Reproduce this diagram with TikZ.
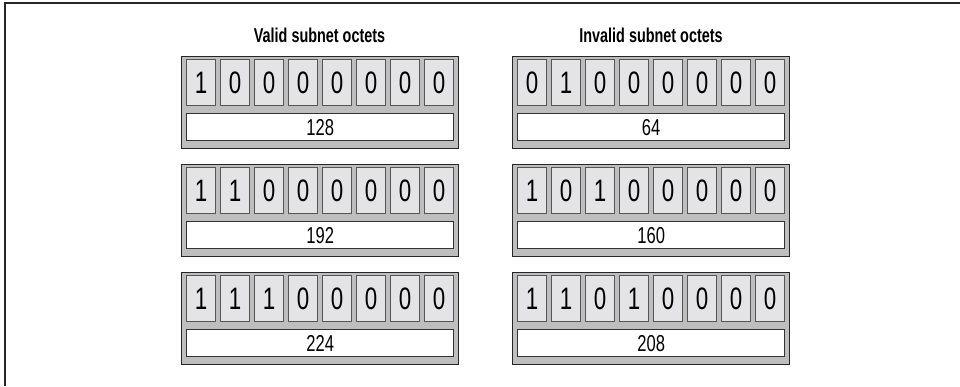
\documentclass[tikz,border=0pt]{standalone}
\usepackage{fontspec}
\setmainfont{Liberation Sans}[FakeStretch=0.72]
\usetikzlibrary{positioning}
\definecolor{octetgray}{HTML}{BEBEBE}
\definecolor{cellgray}{HTML}{E4E4E6}
\definecolor{edgegray}{HTML}{555555}

\tikzset{
  octetbox/.style={draw=black!85, line width=1.3pt, fill=octetgray, minimum width=277pt,
    minimum height=92pt, inner sep=0pt, anchor=north west},
  bitcell/.style={draw=edgegray, line width=1.3pt, fill=cellgray, minimum width=29pt,
    minimum height=46pt, inner sep=0pt, anchor=north west, font=\fontsize{31}{31}\selectfont},
  valuebar/.style={draw=black!80, line width=1.3pt, fill=white, minimum width=267pt,
    minimum height=27pt, inner sep=0pt, anchor=north west, font=\fontsize{23}{23}\selectfont},
  grouptitle/.style={font=\bfseries\fontsize{20}{20}\selectfont}
}

\begin{document}
\begin{tikzpicture}[x=1pt, y=-1pt]
  \useasboundingbox (0,0) rectangle (960,386);
  % frame
  \draw[line width=1.6pt, black!85] (5,386) -- (5,3) -- (960,3);

  % titles
  \node[grouptitle] (validtitle) at (319.5,35) {Valid subnet octets};
  \node[grouptitle] (invalidtitle) at (651,35) {Invalid subnet octets};

  % octets: x / top y / bits / value / name
  \foreach \gx/\ty/\bits/\val/\nm in {
      181/56/{1,0,0,0,0,0,0,0}/128/va,
      181/164/{1,1,0,0,0,0,0,0}/192/vb,
      181/272/{1,1,1,0,0,0,0,0}/224/vc,
      512/56/{0,1,0,0,0,0,0,0}/64/ia,
      512/164/{1,0,1,0,0,0,0,0}/160/ib,
      512/272/{1,1,0,1,0,0,0,0}/208/ic} {
    \node[octetbox] (\nm) at (\gx,\ty) {};
    \foreach \b [count=\k from 0] in \bits
      \node[bitcell] (\nm-\k) at ([shift={(5+34*\k,3)}]\nm.north west) {\b};
    \node[valuebar] (\nm-val) at ([shift={(5,57)}]\nm.north west) {\val};
  }
\end{tikzpicture}
\end{document}
